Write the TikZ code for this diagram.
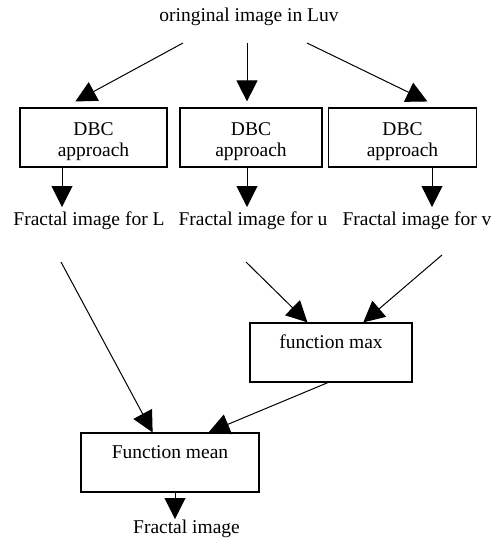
\documentclass[tikz,border=0pt]{standalone}
\usepackage{fontspec}
\setmainfont{Liberation Serif}
\usetikzlibrary{arrows.meta}

\begin{document}
\begin{tikzpicture}[
    x=1pt, y=-1pt,
    every node/.style={font=\fontsize{19.5}{21}\selectfont},
    dbc/.style={rectangle, draw=black, line width=1.2pt, minimum height=59pt, align=center, inner sep=0pt},
    func/.style={rectangle, draw=black, line width=1.2pt, minimum height=59pt, align=center, inner sep=0pt},
    arrow/.style={line width=1pt, -{Triangle[length=21pt, width=21pt]}},
]
\useasboundingbox (0,0) rectangle (498,539);

% Initial definitions
\node (title) at (249,17) {oringinal image in Luv};
\node (dbcL) [dbc, minimum width=147pt] at (93.5,137.5) {\rule{0pt}{21pt}DBC\\approach};
\node (dbcU) [dbc, minimum width=142pt] at (251,137.5) {\rule{0pt}{21pt}DBC\\approach};
\node (dbcV) [dbc, minimum width=148pt] at (402.5,137.5) {\rule{0pt}{21pt}DBC\\approach};
\node (fracL) at (89,221) {Fractal image for L};
\node (fracU) at (253,221) {Fractal image for u};
\node (fracV) at (417,221) {Fractal image for v};
\node (maxbox) [func, minimum width=162pt] at (331,352.5) {function max\\\mbox{}};
\node (meanbox) [func, minimum width=178pt] at (170,462.5) {Function mean\\\mbox{}};
\node (result) [anchor=base] at (186.5,533.5) {Fractal image};

% Free ends of the arrows
\coordinate (outL) at (183,43);
\coordinate (outU) at (247,43);
\coordinate (outV) at (307,43);
\coordinate (downL) at (62,207);
\coordinate (downU) at (247,207);
\coordinate (downV) at (432,207);
\coordinate (fromL) at (61,262);
\coordinate (fromU) at (246,262);
\coordinate (fromV) at (442,255);
\coordinate (down) at (175,519);

% Arrows and paths
\draw [arrow, shorten >=12.4pt] (outL) -- (dbcL.134);
\draw [arrow, shorten >=6pt] (outU) -- (outU |- dbcU.north);
\draw [arrow, shorten >=13.6pt] (outV) -- (dbcV.39);
\draw [arrow] (dbcL.south -| downL) -- (downL);
\draw [arrow] (dbcU.south -| downU) -- (downU);
\draw [arrow] (dbcV.south -| downV) -- (downV);
\draw [arrow] (fromL) -- (meanbox.120);
\draw [arrow] (fromU) -- (maxbox.128);
\draw [arrow] (fromV) -- (maxbox.43);
\draw [arrow] (maxbox.264) -- (meanbox.38);
\draw [arrow] (meanbox.south -| down) -- (down);

\end{tikzpicture}
\end{document}
